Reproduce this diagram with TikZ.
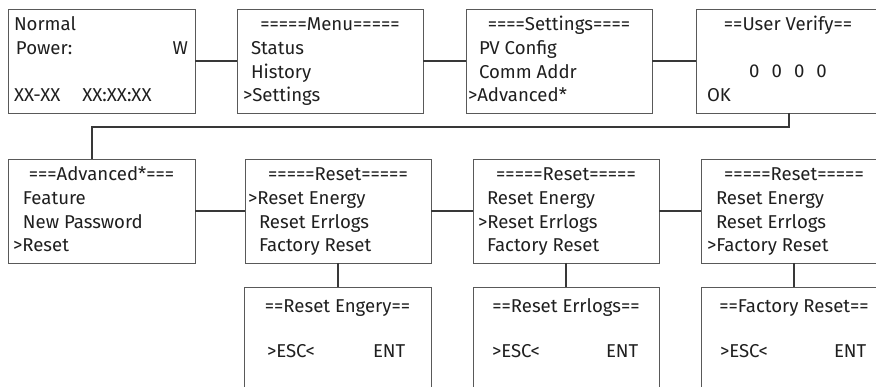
\documentclass[tikz,border=0pt]{standalone}
\usepackage{fontspec}
\setmainfont{Fira Sans}
\begin{document}
\begin{tikzpicture}[x=1pt,y=-1pt,
  box/.style={draw=black!65, line width=0.9pt, inner sep=0pt, outer sep=0pt,
    minimum height=104pt, anchor=north west},
  wbox/.style={box, minimum width=186pt},
  conn/.style={draw=black!78, line width=1.8pt},
  txt/.style={anchor=base west, inner sep=0pt, outer sep=0pt, text=black!88,
    font=\fontsize{18.6}{20}\selectfont},
  ttl/.style={txt, anchor=base}]
\path[use as bounding box] (0,0) rectangle (876,387);
\clip (0,0) rectangle (876,387);
% top row
\node[wbox, minimum width=187pt] (b1) at (8,9) {};
\node[wbox] (b2) at (237,9) {};
\node[wbox] (b3) at (466,9) {};
\node[wbox] (b4) at (696,9) {};
% middle row
\node[wbox, minimum width=187pt] (b5) at (8,159) {};
\node[wbox] (b6) at (245,159) {};
\node[wbox] (b7) at (473,159) {};
\node[wbox] (b8) at (701,159) {};
% bottom row
\node[wbox, minimum width=187pt] (b9) at (244,287) {};
\node[wbox] (b10) at (473,287) {};
\node[wbox] (b11) at (701,287) {};
% connectors
\draw[conn] (b1.east) -- (b2.west);
\draw[conn] (b2.east) -- (b3.west);
\draw[conn] (b3.east) -- (b4.west);
\coordinate (k1) at (92,127);
\draw[conn] (b4.south) |- (k1) -- (k1 |- b5.north);
\draw[conn] (b5.east) -- (b6.west);
\draw[conn] (b6.east) -- (b7.west);
\draw[conn] (b7.east) -- (b8.west);
\draw[conn] (b6.south) -- (b6.south |- b9.north);
\draw[conn] (b7.south) -- (b7.south |- b10.north);
\draw[conn] (b8.south) -- (b8.south |- b11.north);
% box 1
\node[txt] (t1a) at (14,31) {Normal};
\node[txt] (t1b) at (16,55) {Power:};
\node[txt, anchor=base east] (t1c) at (188,55) {W};
\node[txt] (t1d) at (14,102) {XX-XX\hspace{22pt}XX:XX:XX};
% box 2
\node[ttl] (t2a) at (b2.north |- 0,31) {=====Menu=====};
\node[txt] (t2b) at (251,55) {Status};
\node[txt] (t2c) at (251,79) {History};
\node[txt] (t2d) at (243,102) {>Settings};
% box 3
\node[ttl] (t3a) at (b3.north |- 0,31) {====Settings====};
\node[txt] (t3b) at (479,55) {PV Config};
\node[txt] (t3c) at (479,79) {Comm Addr};
\node[txt] (t3d) at (468,102) {>Advanced*};
% box 4
\node[ttl] (t4a) at (788,31) {==User Verify==};
\node[ttl] (t4b) at (788,78) {0\hspace{12pt}0\hspace{12pt}0\hspace{12pt}0};
\node[txt] (t4c) at (707,102) {OK};
% box 5
\node[ttl] (t5a) at (b5.north |- 0,181) {===Advanced*===};
\node[txt] (t5b) at (23,205) {Feature};
\node[txt] (t5c) at (23,229) {New Password};
\node[txt] (t5d) at (13,252) {>Reset};
% box 6
\node[ttl] (t6a) at (b6.north |- 0,181) {=====Reset=====};
\node[txt] (t6b) at (248,205) {>Reset Energy};
\node[txt] (t6c) at (259,229) {Reset Errlogs};
\node[txt] (t6d) at (259,252) {Factory Reset};
% box 7
\node[ttl] (t7a) at (b7.north |- 0,181) {=====Reset=====};
\node[txt] (t7b) at (487,205) {Reset Energy};
\node[txt] (t7c) at (478,229) {>Reset Errlogs};
\node[txt] (t7d) at (487,252) {Factory Reset};
% box 8
\node[ttl] (t8a) at (b8.north |- 0,181) {=====Reset=====};
\node[txt] (t8b) at (716,205) {Reset Energy};
\node[txt] (t8c) at (716,229) {Reset Errlogs};
\node[txt] (t8d) at (707,252) {>Factory Reset};
% bottom boxes
\node[ttl] (t9a) at (b9.north |- 0,313) {==Reset Engery==};
\node[txt] (t9b) at (267,358) {>ESC<};
\node[txt] (t9c) at (373,358) {ENT};
\node[ttl] (t10a) at (b10.north |- 0,313) {==Reset Errlogs==};
\node[txt] (t10b) at (492,358) {>ESC<};
\node[txt] (t10c) at (606,358) {ENT};
\node[ttl] (t11a) at (b11.north |- 0,313) {==Factory Reset==};
\node[txt] (t11b) at (720,358) {>ESC<};
\node[txt] (t11c) at (834,358) {ENT};
\end{tikzpicture}
\end{document}
